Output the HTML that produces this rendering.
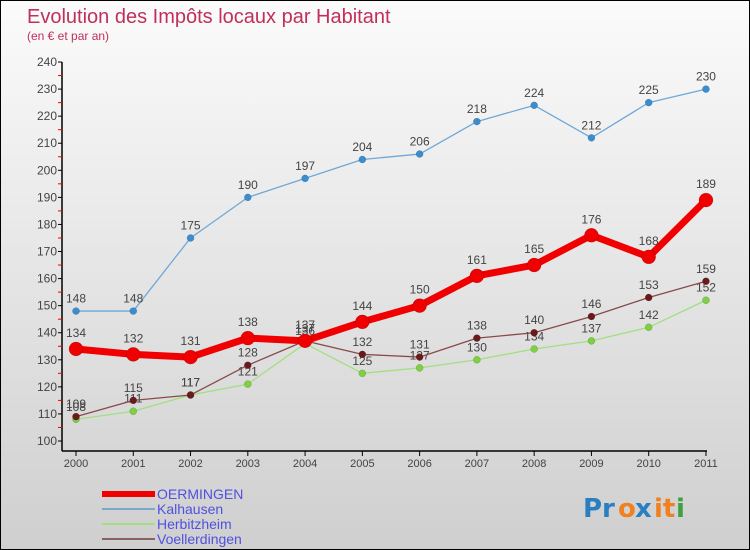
<!DOCTYPE html>
<html><head><meta charset="utf-8"><style>
body{margin:0}
#wrap{position:relative;width:748px;height:548px;border:1px solid #000;background:linear-gradient(#fbfbfb,#cfcfcf);overflow:hidden;font-family:"Liberation Sans",sans-serif}
</style></head><body>
<div id="wrap">
<svg id="svg" width="748" height="548" xmlns="http://www.w3.org/2000/svg">
<text x="26" y="22" font-size="20" fill="#c0305a">Evolution des Impôts locaux par Habitant</text>
<text x="26" y="39" font-size="12" fill="#c0305a">(en € et par an)</text>
<g id="axes"></g><g id="series"></g>
<g id="legend"></g>
<g font-size="26" font-family="DejaVu Sans, sans-serif" font-weight="bold">
<text x="582" y="516" fill="#2a7fc0">Pr</text><text x="617" y="516" fill="#f08020">o</text><text x="634" y="516" fill="#2a7fc0">x</text><text x="653" y="516" fill="#f08020">it</text><text x="675" y="516" fill="#40a040">i</text>
</g>
</svg></div>
<script>
const years=[2000,2001,2002,2003,2004,2005,2006,2007,2008,2009,2010,2011];
const yTicks=[100,110,120,130,140,150,160,170,180,190,200,210,220,230,240];
const oermingen=[134,132,131,138,137,144,150,161,165,176,168,189];
const kalhausen=[148,148,175,190,197,204,206,218,224,212,225,230];
const herbitzheim=[108,111,117,121,136,125,127,130,134,137,142,152];
const voellerdingen=[109,115,117,128,137,132,131,138,140,146,153,159];
const NS="http://www.w3.org/2000/svg";
const X=i=>75+i*57.27, Y=v=>440-(v-100)*2.707;
function mk(t,a,p){const e=document.createElementNS(NS,t);for(const k in a)e.setAttribute(k,a[k]);(p||document.getElementById('series')).appendChild(e);return e;}
const ax=document.getElementById('axes');
let e=mk('line',{x1:61,y1:61,x2:61,y2:450,stroke:'#000','stroke-width':1.5},ax);

e=mk('line',{x1:61,y1:450,x2:706,y2:450,stroke:'#000','stroke-width':1.5},ax);

yTicks.forEach(v=>{mk('line',{x1:57,y1:Y(v),x2:61,y2:Y(v),stroke:'#000'},ax);
 if(v<240)mk('line',{x1:57,y1:Y(v+5),x2:61,y2:Y(v+5),stroke:'#e00'},ax);
 const t=mk('text',{x:56,y:Y(v)+4,'font-size':12,fill:'#444','text-anchor':'end'},ax);t.textContent=v;
 });
years.forEach((y,i)=>{mk('line',{x1:X(i),y1:450,x2:X(i),y2:455,stroke:'#000'},ax);
 const t=mk('text',{x:X(i),y:466,'font-size':11,fill:'#444','text-anchor':'middle'},ax);t.textContent=y;
 });
function series(d,name,col,w,r,mcol,labels){
 const g=mk('g',{});
 mk('polyline',{points:d.map((v,i)=>X(i)+','+Y(v)).join(' '),fill:'none',stroke:col,'stroke-width':w,'stroke-linejoin':'round'},g);
 d.forEach((v,i)=>{const c=mk('circle',{cx:X(i),cy:Y(v),r:r,fill:mcol,stroke:'rgba(0,0,0,0.25)','stroke-width':0.5},g);
  
  const t=mk('text',{x:X(i),y:Y(v)-r-5,'font-size':12,fill:'#444','text-anchor':'middle'},g);t.textContent=v;
  });
}
series(kalhausen,'kalhausen','#6fa8d8',1.3,3.5,'#3a8ed0');
series(herbitzheim,'herbitzheim','#a0e080',1.3,3.5,'#7ed040');
series(voellerdingen,'voellerdingen','#8a4a4a',1.3,3.5,'#6a1a1a');
series(oermingen,'oermingen','#f00000',7,7,'#f00000');
const lg=document.getElementById('legend');
[['OERMINGEN','#f00000',6],['Kalhausen','#7aa8c8',2],['Herbitzheim','#a0e080',2],['Voellerdingen','#8a6060',2]].forEach((l,i)=>{
 const y=493+i*15;
 mk('line',{x1:101,y1:y,x2:154,y2:y,stroke:l[1],'stroke-width':l[2]},lg);
 const t=mk('text',{x:156,y:y+5,'font-size':14,fill:'#5050e0'},lg);t.textContent=l[0];
 
});
</script></body></html>
